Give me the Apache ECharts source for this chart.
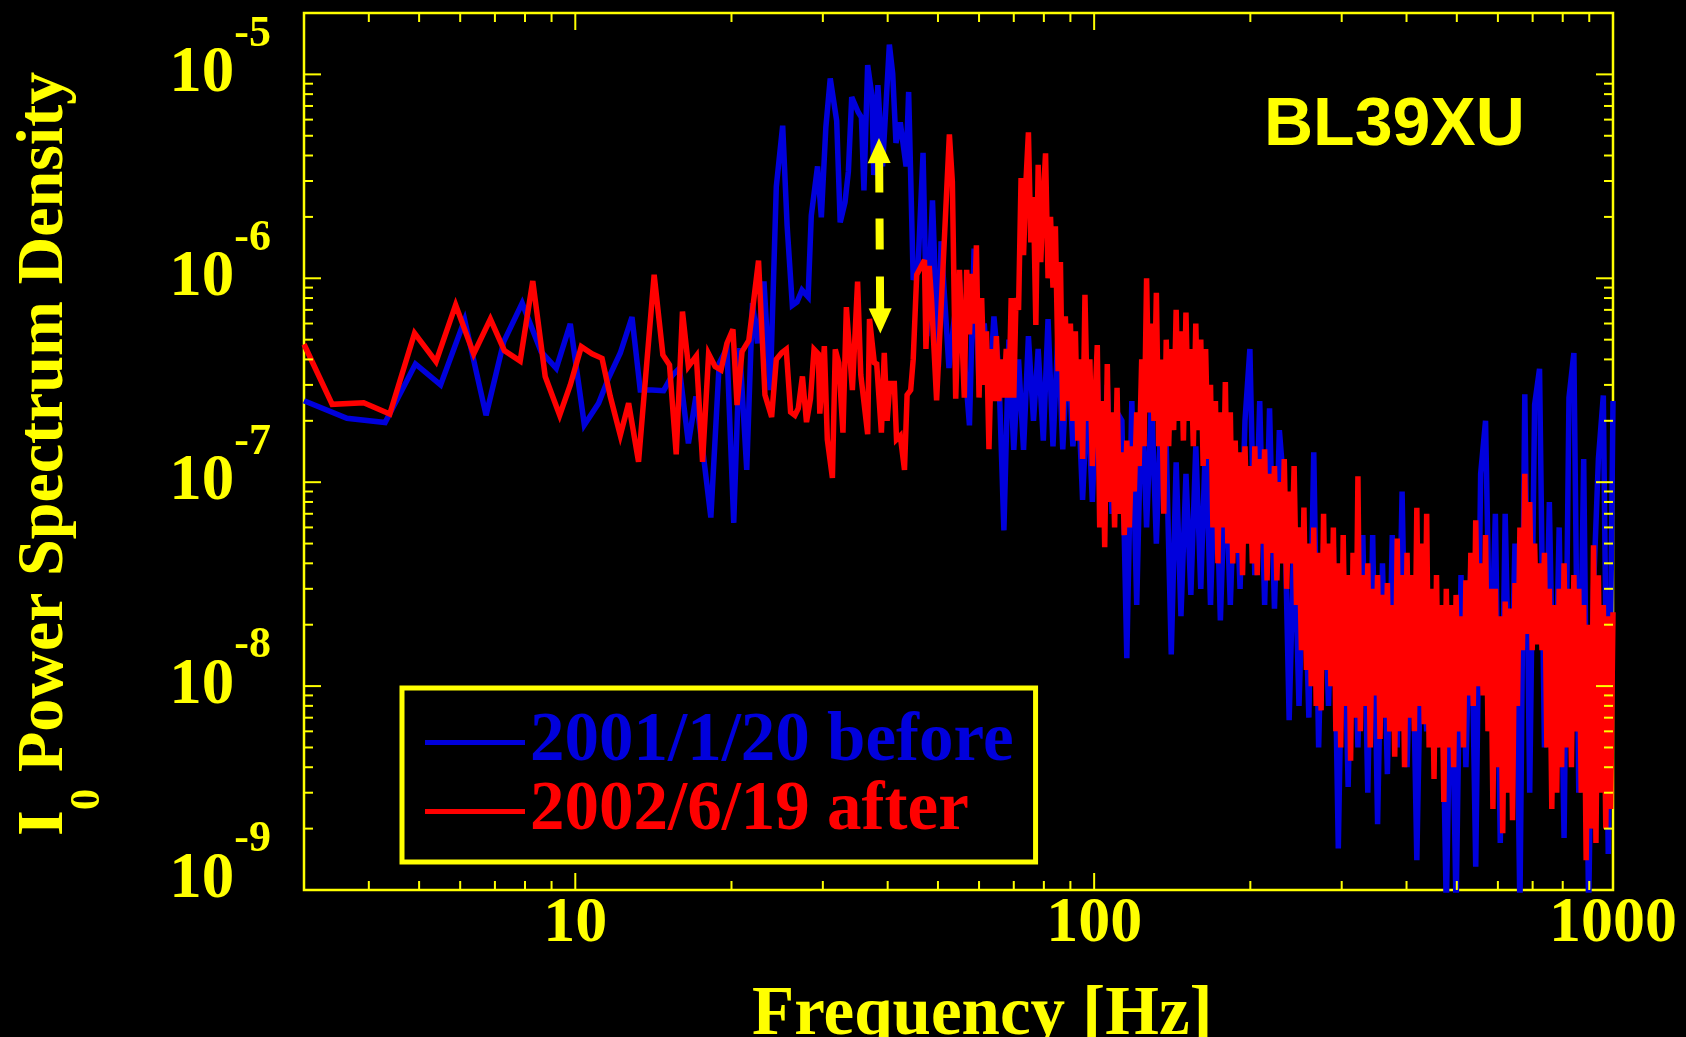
<!DOCTYPE html>
<html>
<head>
<meta charset="utf-8">
<title>BL39XU I0 power spectrum</title>
<script src="https://cdn.jsdelivr.net/npm/echarts@6.0.0/dist/echarts.min.js"></script>
<style>
html, body { margin: 0; padding: 0; background: #000; }
#chart { width: 1686px; height: 1037px; }
</style>
</head>
<body>
<div id="chart"></div>
<script>
var YELLOW = '#ffff00', BLUE = '#0000dc', RED = '#ff0000';
var SERIF = '"Liberation Serif", "Times New Roman", serif';
var SANS = '"Liberation Sans", Arial, sans-serif';
var NAME_BEFORE = '2001/1/20 before';
var NAME_AFTER = '2002/6/19 after';

// low frequency part, every kink
var beforeLowFreq = [3.0, 3.63, 4.30, 4.92, 5.50, 6.12, 6.73, 7.28, 7.90, 8.59, 9.19, 9.78, 10.41, 11.09, 11.59, 12.21, 12.86, 13.34, 14.05, 14.80,
  15.35, 15.87, 16.52, 17.08, 17.67, 18.25, 18.94, 19.60, 20.20, 20.74, 21.40, 21.95, 22.45, 23.10, 23.75, 24.40, 25.10, 25.60, 26.20, 26.75,
  27.35, 28.10, 28.50, 29.30, 29.80, 30.40, 31.00, 31.90, 32.40, 33.10, 33.60, 34.10, 35.10, 35.60, 36.00, 36.60, 37.30, 37.60, 38.30, 39.10,
  40.30, 40.90, 41.50, 42.30, 43.40, 43.90, 44.80, 45.80, 46.80, 47.60, 48.80, 50.10, 50.70, 52.50, 53.60, 55.00];
var beforeLowPsd = [2.51e-7, 2.06e-7, 1.96e-7, 3.80e-7, 3.0e-7, 6.25e-7, 2.13e-7, 4.89e-7, 7.55e-7, 4.37e-7, 3.62e-7, 5.98e-7, 1.91e-7, 2.44e-7, 3.24e-7, 4.30e-7, 6.46e-7, 2.83e-7, 2.83e-7, 2.81e-7,
  3.32e-7, 3.62e-7, 1.55e-7, 2.63e-7, 1.33e-7, 6.71e-8, 3.83e-7, 4.54e-7, 6.31e-8, 4.54e-7, 1.15e-7, 7.55e-7, 4.80e-7, 9.64e-7, 2.83e-7, 2.81e-6, 5.60e-6, 1.81e-6, 7.36e-7, 7.65e-7,
  8.75e-7, 8.1e-7, 2.03e-6, 3.54e-6, 1.99e-6, 5.49e-6, 9.55e-6, 5.92e-6, 1.88e-6, 2.36e-6, 3.34e-6, 7.74e-6, 6.52e-6, 6.15e-6, 2.70e-6, 1.11e-5, 7.89e-6, 3.21e-6, 8.85e-6, 3.54e-6,
  1.40e-5, 1.01e-5, 4.61e-6, 5.81e-6, 3.54e-6, 8.2e-6, 9.82e-7, 1.19e-6, 4.12e-6, 5.21e-7, 2.41e-6, 3.70e-7, 1.52e-6, 3.63e-7, 5.97e-7, 9.82e-7];

var afterLowFreq = [3.0, 3.40, 3.91, 4.39, 4.90, 5.39, 5.88, 6.37, 6.86, 7.30, 7.83, 8.28, 8.75, 9.33, 9.78, 10.27, 10.77, 11.26, 11.68, 12.21,
  12.67, 13.24, 14.19, 14.75, 15.19, 15.65, 16.09, 16.52, 17.11, 17.59, 18.07, 18.60, 19.09, 19.60, 20.13, 20.50, 20.96, 21.60, 22.55, 23.20,
  23.90, 24.40, 25.00, 25.50, 26.00, 26.50, 26.90, 27.40, 27.90, 28.40, 28.85, 29.40, 29.60, 30.20, 30.60, 31.30, 31.70, 32.20, 32.80, 33.30,
  34.20, 35.00, 35.50, 36.60, 36.90, 37.70, 38.10, 38.90, 39.40, 39.90, 40.40, 41.20, 41.60, 42.30, 43.10, 43.60, 44.30, 44.80, 45.50, 47.10,
  47.40, 48.10, 48.60, 49.70, 51.00, 52.60, 53.30, 54.10, 55.00];
var afterLowPsd = [4.75e-7, 2.41e-7, 2.45e-7, 2.16e-7, 5.38e-7, 3.90e-7, 7.41e-7, 4.26e-7, 6.31e-7, 4.42e-7, 3.93e-7, 9.7e-7, 3.30e-7, 2.13e-7, 3.0e-7, 4.62e-7, 4.26e-7, 4.05e-7, 2.63e-7, 1.70e-7,
  2.44e-7, 1.26e-7, 1.04e-6, 4.21e-7, 3.76e-7, 1.37e-7, 6.87e-7, 3.69e-7, 4.16e-7, 1.26e-7, 4.26e-7, 3.69e-7, 3.55e-7, 4.80e-7, 5.62e-7, 2.39e-7, 4.37e-7, 4.96e-7, 1.22e-6, 2.68e-7,
  2.09e-7, 4.0e-7, 4.31e-7, 4.48e-7, 2.21e-7, 2.13e-7, 2.3e-7, 3.30e-7, 1.97e-7, 2.57e-7, 4.48e-7, 4.26e-7, 2.17e-7, 4.65e-7, 1.62e-7, 1.05e-7, 4.48e-7, 3.85e-7, 1.75e-7, 7.22e-7,
  2.83e-7, 9.64e-7, 3.36e-7, 1.72e-7, 6.32e-7, 3.85e-7, 3.80e-7, 1.75e-7, 4.31e-7, 2.0e-7, 3.05e-7, 3.05e-7, 1.62e-7, 1.69e-7, 1.15e-7, 2.68e-7, 2.83e-7, 4.0e-7, 1.04e-6, 1.23e-6,
  4.5e-7, 1.15e-6, 7.8e-7, 2.52e-7, 9.82e-7, 5.08e-6, 2.98e-6, 2.57e-7, 1.10e-6];

// 55-100 Hz: peaks and troughs
var beforeMidFreq = [56.2, 57.5, 58.7, 60, 61.4, 62.7, 64.1, 65.5, 67, 68.5,
  70, 71.5, 73.1, 74.7, 76.4, 78, 79.8, 81.5, 83.3, 85.2,
  87, 89, 91, 93, 95, 97.1, 99.2];
var beforeMidPsd = [4e-7, 1.9e-7, 1.4e-6, 3e-7, 6e-7, 2.5e-7, 6.5e-7, 3.5e-7, 5.8e-8, 5e-7,
  1.44e-7, 4e-7, 1.44e-7, 5.2e-7, 2e-7, 4.5e-7, 1.6e-7, 6.3e-7, 1.5e-7, 5.5e-7,
  1.45e-7, 4.8e-7, 1.5e-7, 3e-7, 8.2e-8, 2.8e-7, 8e-8];
var afterMidFreq = [56.2, 56.8, 57.5, 58.1, 58.7, 59.3, 60, 60.7, 61.4, 62,
  62.7, 63.4, 64.1, 64.8, 65.5, 66.2, 67, 67.7, 68.5, 69.2,
  70, 70.7, 71.5, 72.3, 73.1, 73.9, 74.7, 75.5, 76.4, 77.2,
  78, 78.9, 79.8, 80.6, 81.5, 82.4, 83.3, 84.2, 85.2, 86.1,
  87, 88, 89, 90, 91, 92, 93, 94, 95, 96,
  97.1, 98.1, 99.2];
var afterMidPsd = [2.6e-7, 1.1e-6, 5.3e-7, 1.05e-6, 6e-7, 1.45e-6, 2.6e-7, 8e-7, 3e-7, 5.5e-7,
  1.45e-7, 4.5e-7, 2.5e-7, 5.2e-7, 2.5e-7, 4e-7, 2.6e-7, 4.5e-7, 2.6e-7, 8e-7,
  2.6e-7, 8e-7, 7e-7, 3.1e-6, 1.3e-6, 3e-6, 5.2e-6, 1.5e-6, 2.5e-6, 5.9e-7,
  3.6e-6, 1.2e-6, 2.5e-6, 4.1e-6, 1e-6, 2e-6, 9e-7, 1.8e-6, 3.5e-7, 1.2e-6,
  2e-7, 6.5e-7, 2.5e-7, 6e-7, 2e-7, 5.5e-7, 1.6e-7, 4e-7, 1.3e-7, 8.3e-7,
  2e-7, 4e-7, 1.2e-7];

// above 100 Hz the traces are a dense band: peaks and troughs along it
var beforeHighFreq = [101.4, 103.7, 106, 108.3, 110.7, 113.1, 115.6, 118.2, 120.8, 123.5,
  126.2, 129, 131.8, 134.7, 137.7, 140.8, 143.9, 147, 150.3, 153.6,
  157, 160.5, 164, 167.6, 171.3, 175.1, 179, 183, 187, 191.1,
  195.3, 199.6, 204, 208.5, 213.1, 217.8, 222.6, 227.5, 232.5, 237.6,
  242.9, 248.2, 253.7, 259.3, 265, 270.8, 276.8, 282.9, 289.1, 295.5,
  302, 308.7, 315.5, 322.4, 329.5, 336.8, 344.2, 351.8, 359.5, 367.4,
  375.5, 383.8, 392.2, 400.9, 409.7, 418.7, 428, 437.4, 447, 456.9,
  466.9, 477.2, 487.7, 498.4, 509.4, 520.6, 532.1, 543.8, 555.8, 568,
  580.5, 593.3, 606.4, 619.7, 633.4, 647.3, 661.6, 676.1, 691, 706.2,
  721.8, 737.7, 753.9, 770.5, 787.5, 804.8, 822.5, 840.6, 859.1, 878,
  897.4, 917.1, 937.3, 958, 979.1, 1000];
var beforeHighPsd = [3.3e-7, 6.4e-8, 3e-7, 7e-8, 2.2e-7, 2e-7, 1.37e-8, 2.5e-7, 2.5e-8, 2.9e-7,
  6e-8, 2.6e-7, 5e-8, 2.4e-7, 1.5e-7, 1.43e-8, 1.25e-7, 2.2e-8, 1.1e-7, 2.8e-8,
  1.5e-7, 3e-8, 1.65e-7, 2.5e-8, 1.5e-7, 2.1e-8, 1.2e-7, 2.5e-8, 1.3e-7, 3e-8,
  2e-7, 4.5e-7, 3.5e-8, 2.5e-7, 2.5e-8, 2.3e-7, 2.4e-8, 1.8e-7, 9e-8, 6.8e-9,
  6e-8, 8e-9, 5e-8, 7e-9, 1.4e-7, 5e-9, 5e-8, 8e-9, 4.8e-8, 1.6e-9,
  4e-8, 3.2e-9, 3.5e-8, 5e-9, 5.5e-8, 3e-9, 5.5e-8, 2.1e-9, 4e-8, 3.7e-9,
  5.5e-8, 5e-9, 9e-8, 4e-9, 3e-8, 1.4e-9, 3e-8, 6e-9, 2.5e-8, 5e-9,
  2e-8, 8e-10, 2e-8, 8e-10, 3.5e-8, 4e-9, 4e-8, 1.3e-9, 1.1e-7, 2e-7,
  1e-8, 7e-8, 1.7e-9, 7e-8, 5e-9, 5e-8, 8e-10, 2.7e-7, 3e-9, 2.4e-7,
  3.6e-7, 5e-9, 8e-8, 4e-9, 6e-8, 1.8e-9, 2.6e-7, 4.3e-7, 3e-9, 1.3e-7,
  8e-10, 3e-8, 1.3e-7, 2.66e-7, 1.5e-9, 2.5e-7];

var afterHighFreq = [101.4, 102.5, 103.7, 104.8, 106, 107.1, 108.3, 109.5, 110.7, 111.9,
  113.1, 114.3, 115.6, 116.9, 118.2, 119.5, 120.8, 122.1, 123.5, 124.8,
  126.2, 127.6, 129, 130.4, 131.8, 133.2, 134.7, 136.2, 137.7, 139.2,
  140.8, 142.3, 143.9, 145.4, 147, 148.6, 150.3, 151.9, 153.6, 155.3,
  157, 158.7, 160.5, 162.2, 164, 165.8, 167.6, 169.4, 171.3, 173.2,
  175.1, 177, 179, 181, 183, 185, 187, 189, 191.1, 193.2,
  195.3, 197.4, 199.6, 201.8, 204, 206.2, 208.5, 210.8, 213.1, 215.4,
  217.8, 220.2, 222.6, 225, 227.5, 230, 232.5, 235, 237.6, 240.2,
  242.9, 245.5, 248.2, 250.9, 253.7, 256.5, 259.3, 262.1, 265, 267.9,
  270.8, 273.8, 276.8, 279.8, 282.9, 286, 289.1, 292.3, 295.5, 298.7,
  302, 305.3, 308.7, 312.1, 315.5, 318.9, 322.4, 325.9, 329.5, 333.1,
  336.8, 340.5, 344.2, 348, 351.8, 355.6, 359.5, 363.4, 367.4, 371.4,
  375.5, 379.6, 383.8, 388, 392.2, 396.5, 400.9, 405.3, 409.7, 414.2,
  418.7, 423.3, 428, 432.7, 437.4, 442.2, 447, 451.9, 456.9, 461.9,
  466.9, 472, 477.2, 482.4, 487.7, 493, 498.4, 503.9, 509.4, 515,
  520.6, 526.3, 532.1, 537.9, 543.8, 549.8, 555.8, 561.9, 568, 574.2,
  580.5, 586.9, 593.3, 599.8, 606.4, 613, 619.7, 626.5, 633.4, 640.3,
  647.3, 654.4, 661.6, 668.8, 676.1, 683.5, 691, 698.6, 706.2, 713.9,
  721.8, 729.7, 737.7, 745.8, 753.9, 762.2, 770.5, 779, 787.5, 796.1,
  804.8, 813.6, 822.5, 831.5, 840.6, 849.8, 859.1, 868.5, 878, 887.7,
  897.4, 907.2, 917.1, 927.2, 937.3, 947.6, 958, 968.5, 979.1, 989.5,
  1000];
var afterHighPsd = [4.7e-7, 6e-8, 2.5e-7, 4.8e-8, 3.8e-7, 8e-8, 2.2e-7, 6e-8, 2.9e-7, 7e-8,
  1.4e-7, 5.5e-8, 1.6e-7, 6e-8, 1.5e-7, 9e-8, 2.2e-7, 1.2e-7, 4e-7, 1.5e-7,
  1.0e-6, 2.2e-7, 6e-7, 2e-7, 8.5e-7, 1.5e-7, 4e-7, 7e-8, 5e-7, 1.5e-7,
  4.5e-7, 1.8e-7, 7e-7, 2e-7, 5.5e-7, 1.6e-7, 6.8e-7, 2e-7, 4.5e-7, 1.5e-7,
  6e-7, 1.8e-7, 5e-7, 1.2e-7, 4.5e-7, 1.3e-7, 3e-7, 6e-8, 2.5e-7, 4e-8,
  2.2e-7, 6e-8, 3.1e-7, 5e-8, 2.2e-7, 4e-8, 1.6e-7, 4.5e-8, 1.4e-7, 3.5e-8,
  1.5e-7, 5e-8, 1.2e-7, 4e-8, 1.5e-7, 3.5e-8, 1.3e-7, 5e-8, 1.45e-7, 3.3e-8,
  1.1e-7, 4.5e-8, 1.2e-7, 3.3e-8, 1e-7, 4e-8, 1.3e-7, 3e-8, 9e-8, 4e-8,
  1.2e-7, 2.5e-8, 6e-8, 1.5e-8, 7.5e-8, 1.2e-8, 5e-8, 1e-8, 6e-8, 8e-9,
  4.5e-8, 7.6e-9, 7e-8, 1.2e-8, 5e-8, 1e-8, 6e-8, 6e-9, 4e-8, 5e-9,
  5.5e-8, 8e-9, 3.5e-8, 4.3e-9, 4.5e-8, 7e-9, 1.07e-7, 6e-9, 3.5e-8, 8e-9,
  4e-8, 5e-9, 3e-8, 9e-9, 3.5e-8, 5.5e-9, 2.8e-8, 7e-9, 3.2e-8, 6e-9,
  2.5e-8, 4.5e-9, 5.3e-8, 6e-9, 3.5e-8, 4e-9, 4.5e-8, 7e-9, 3.5e-8, 6e-9,
  7.5e-8, 8e-9, 5e-8, 6.5e-9, 7e-8, 5e-9, 3e-8, 3.5e-9, 3.5e-8, 5e-9,
  2.5e-8, 2.7e-9, 3e-8, 5e-9, 2.5e-8, 4e-9, 2.8e-8, 6e-9, 2.2e-8, 5e-9,
  3.3e-8, 9e-9, 4.5e-8, 8e-9, 6.5e-8, 1e-8, 4e-8, 9e-9, 5.5e-8, 6e-9,
  3e-8, 2.5e-9, 3e-8, 4e-9, 2.2e-8, 1.9e-9, 2.6e-8, 3e-9, 2.4e-8, 2.2e-9,
  3.2e-8, 8e-9, 6e-8, 1.5e-8, 1.1e-7, 1.8e-8, 8e-8, 1.5e-8, 5e-8, 1.6e-8,
  4e-8, 1.5e-8, 4.5e-8, 5e-9, 3e-8, 2.5e-9, 2.5e-8, 3e-9, 3e-8, 4e-9,
  4e-8, 5e-9, 3e-8, 4e-9, 3.5e-8, 6e-9, 3e-8, 3e-9, 2.5e-8, 1.4e-9,
  2e-8, 2e-9, 4.9e-8, 1.7e-9, 3.5e-8, 3e-9, 2.5e-8, 2e-9, 2.2e-8, 2.5e-9,
  2.3e-8];

// axis ticks
var xMajorTicks = [10, 100, 1000];
var xMinorTicks = [4, 5, 6, 7, 8, 9, 20, 30, 40, 50, 60, 70, 80, 90, 200, 300, 400, 500, 600, 700, 800, 900];
var yMajorTicks = [1e-9, 1e-8, 1e-7, 1e-6, 1e-5];
var yMinorTicks = [2e-9, 3e-9, 4e-9, 5e-9, 6e-9, 7e-9, 8e-9, 9e-9,
  2e-8, 3e-8, 4e-8, 5e-8, 6e-8, 7e-8, 8e-8, 9e-8,
  2e-7, 3e-7, 4e-7, 5e-7, 6e-7, 7e-7, 8e-7, 9e-7,
  2e-6, 3e-6, 4e-6, 5e-6, 6e-6, 7e-6, 8e-6, 9e-6, 2e-5];

// the dashed double arrow (ends at the arrow head centres)
var arrowFreq = [38.5, 38.7];
var arrowPsd = [4.23e-6, 6.18e-7];

function pairs(f, p) {
  return f.map(function (v, i) { return [v, p[i]]; });
}
function isPow10(v) {
  var e = Math.log10(v);
  return Math.abs(e - Math.round(e)) < 1e-6;
}

var chart = echarts.init(document.getElementById('chart'));

function xTickItem(params, api) {
  var cs = params.coordSys;
  var x = api.coord([api.value(0), 1e-9])[0];
  var len = api.value(1) === 2 ? 17 : 9;
  var st = { stroke: YELLOW, lineWidth: 2 };
  return { type: 'group', children: [
    { type: 'line', shape: { x1: x, y1: cs.y + cs.height, x2: x, y2: cs.y + cs.height - len }, style: st },
    { type: 'line', shape: { x1: x, y1: cs.y, x2: x, y2: cs.y + len }, style: st }
  ] };
}
function yTickItem(params, api) {
  var cs = params.coordSys;
  var y = api.coord([3, api.value(1)])[1];
  var len = api.value(2) === 2 ? 17 : 9;
  var st = { stroke: YELLOW, lineWidth: 2 };
  return { type: 'group', children: [
    { type: 'line', shape: { x1: cs.x, y1: y, x2: cs.x + len, y2: y }, style: st },
    { type: 'line', shape: { x1: cs.x + cs.width, y1: y, x2: cs.x + cs.width - len, y2: y }, style: st }
  ] };
}

var option = {
  backgroundColor: '#000',
  animation: false,
  grid: { left: 304, top: 13, width: 1309, height: 877, show: true,
    borderColor: YELLOW, borderWidth: 2.5, backgroundColor: 'transparent' },
  xAxis: {
    type: 'log', logBase: 10, min: 3, max: 1000,
    axisLine: { show: false }, axisTick: { show: false }, splitLine: { show: false },
    axisLabel: {
      margin: 2, color: YELLOW, fontFamily: SERIF, fontWeight: 'bold', fontSize: 64, lineHeight: 64,
      showMinLabel: false,
      formatter: function (v) { return isPow10(v) ? String(Math.round(v)) : ''; }
    }
  },
  yAxis: {
    type: 'log', logBase: 10, min: 1e-9, max: 2e-5,
    axisLine: { show: false }, axisTick: { show: false }, splitLine: { show: false },
    axisLabel: {
      margin: 33,
      formatter: function (v) {
        if (!isPow10(v)) return '';
        var e = Math.round(Math.log10(v));
        // the lowest label sits a little higher in the picture
        return e === -9 ? '{bl|10}{sl|' + e + '}' : '{b|10}{s|' + e + '}';
      },
      rich: {
        b: { color: YELLOW, fontFamily: SERIF, fontWeight: 'bold', fontSize: 65 },
        s: { color: YELLOW, fontFamily: SERIF, fontWeight: 'bold', fontSize: 44, padding: [0, 0, 80, 0] },
        bl: { color: YELLOW, fontFamily: SERIF, fontWeight: 'bold', fontSize: 65, padding: [0, 0, 20, 0] },
        sl: { color: YELLOW, fontFamily: SERIF, fontWeight: 'bold', fontSize: 44, padding: [0, 0, 100, 0] }
      }
    }
  },
  legend: {
    orient: 'vertical', left: 402, top: 688,
    padding: [20, 22, 16, 23],
    itemWidth: 100, itemHeight: 5, itemGap: 0, icon: 'rect',
    borderColor: YELLOW, borderWidth: 5, selectedMode: false,
    textStyle: { fontFamily: SERIF, fontWeight: 'bold', fontSize: 69, lineHeight: 68 },
    data: [
      { name: NAME_BEFORE, textStyle: { color: BLUE } },
      { name: NAME_AFTER, textStyle: { color: RED } }
    ]
  },
  graphic: [
    { type: 'text', x: 45, y: 772, rotation: Math.PI / 2, silent: true,
      style: { text: 'Power Spectrum Density', font: 'bold 66px ' + SERIF, fill: YELLOW,
        align: 'left', verticalAlign: 'middle', textAlign: 'left', textVerticalAlign: 'middle' } },
    { type: 'text', x: 45, y: 836, rotation: Math.PI / 2, silent: true,
      style: { text: 'I', font: 'bold 66px ' + SERIF, fill: YELLOW,
        align: 'left', verticalAlign: 'middle', textAlign: 'left', textVerticalAlign: 'middle' } },
    { type: 'text', x: 88, y: 810, rotation: Math.PI / 2, silent: true,
      style: { text: '0', font: 'bold 42px ' + SERIF, fill: YELLOW,
        align: 'left', verticalAlign: 'middle', textAlign: 'left', textVerticalAlign: 'middle' } },
    { type: 'text', x: 752, y: 1016, silent: true,
      style: { text: 'Frequency [Hz]', font: 'bold 69px ' + SERIF, fill: YELLOW,
        align: 'left', verticalAlign: 'middle', textAlign: 'left', textVerticalAlign: 'middle' } },
    { type: 'text', x: 1264, y: 126, silent: true,
      style: { text: 'BL39XU', font: 'bold 68px ' + SANS, fill: YELLOW,
        align: 'left', verticalAlign: 'middle', textAlign: 'left', textVerticalAlign: 'middle' } }
  ],
  series: [
    {
      name: NAME_BEFORE, type: 'line', silent: true, showSymbol: false, symbol: 'none', z: 2,
      data: pairs(beforeLowFreq, beforeLowPsd)
        .concat(pairs(beforeMidFreq, beforeMidPsd))
        .concat(pairs(beforeHighFreq, beforeHighPsd)),
      itemStyle: { color: BLUE },
      lineStyle: { color: BLUE, width: 5.5, join: 'miter', miterLimit: 4 }
    },
    {
      name: NAME_AFTER, type: 'line', silent: true, showSymbol: false, symbol: 'none', z: 3,
      data: pairs(afterLowFreq, afterLowPsd)
        .concat(pairs(afterMidFreq, afterMidPsd))
        .concat(pairs(afterHighFreq, afterHighPsd)),
      itemStyle: { color: RED },
      lineStyle: { color: RED, width: 5.5, join: 'miter', miterLimit: 4 },
      markLine: {
        silent: true, animation: false,
        symbol: ['triangle', 'triangle'], symbolSize: [23, 25],
        label: { show: false },
        itemStyle: { color: YELLOW },
        lineStyle: { color: YELLOW, width: 8, type: [42, 26, 31, 27, 44, 60], opacity: 1 },
        emphasis: { disabled: true },
        data: [[
          { coord: [arrowFreq[0], arrowPsd[0]] },
          { coord: [arrowFreq[1], arrowPsd[1]] }
        ]]
      }
    },
    {
      name: 'xticks', type: 'custom', silent: true, z: 10, clip: false,
      renderItem: xTickItem,
      data: xMinorTicks.map(function (v) { return [v, 1]; })
        .concat(xMajorTicks.map(function (v) { return [v, 2]; }))
    },
    {
      name: 'yticks', type: 'custom', silent: true, z: 10, clip: false,
      renderItem: yTickItem,
      data: yMinorTicks.map(function (v) { return [3, v, 1]; })
        .concat(yMajorTicks.map(function (v) { return [3, v, 2]; }))
    }
  ]
};
chart.setOption(option);
</script>
</body>
</html>
